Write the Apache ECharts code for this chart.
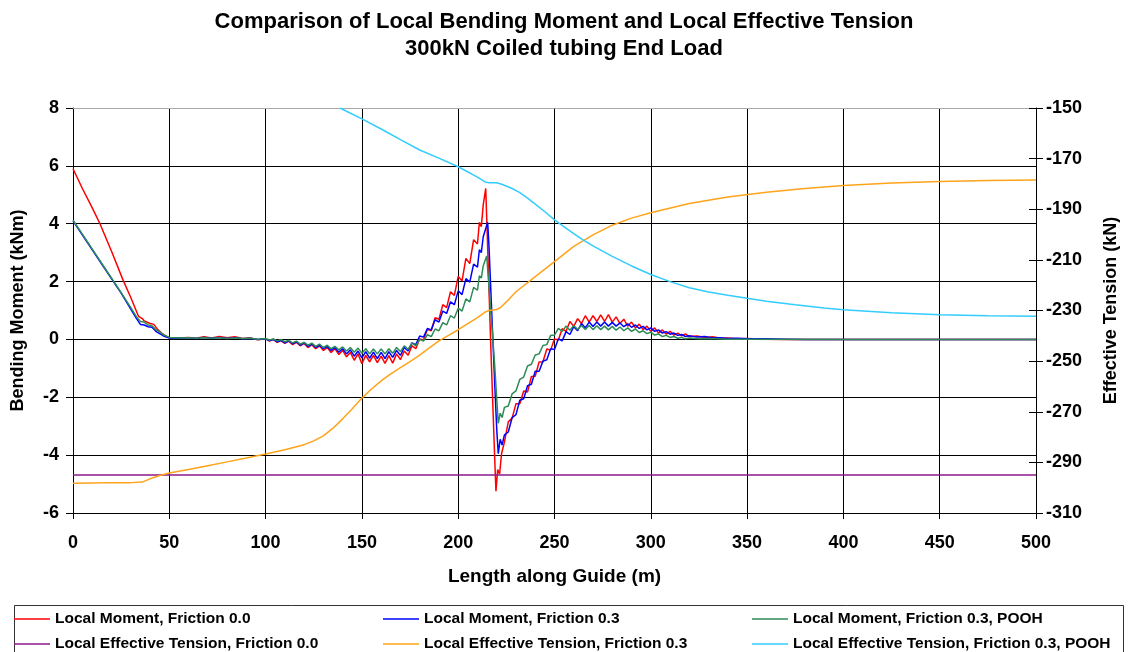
<!DOCTYPE html>
<html>
<head>
<meta charset="utf-8">
<title>Local Bending Moment and Local Effective Tension</title>
<script src="https://cdn.jsdelivr.net/npm/echarts@6/dist/echarts.min.js"></script>
<style>
  html, body { margin: 0; padding: 0; background: #fff; }
  #chart { width: 1128px; height: 652px; }
</style>
</head>
<body>
<div id="chart"></div>
<script>
// Length along guide (m) against local bending moment (kNm), three load cases
const momentFriction00 = [
  [0,5.9],[5,5.2],[10,4.55],[14,4.0],[20,3.05],[26,2.05],[30,1.45],[34,0.8],[36,0.72],[37,0.64],[38,0.7],[40,0.55],[41,0.5],[42,0.52],[44,0.34],[46,0.22],[48,0.12],[50,0.06],
  [55,0.05],[60,0.07],[64,0.04],[68,0.09],[72,0.05],[76,0.1],[80,0.06],[84,0.09],[88,0.03],[92,0.05],[96,-0.01],[100,0.02],
  [102,-0.06],[104,0.0],[106,-0.1],[108,-0.04],[110,-0.14],[112,-0.06],[114,-0.18],[116,-0.1],[118,-0.22],[120,-0.14],[122,-0.28],[124,-0.18],[126,-0.32],[128,-0.22],[130,-0.38],[132,-0.28],[134,-0.45],[136,-0.32],[138,-0.52],[140,-0.38],
  [142,-0.6],[144,-0.45],[146,-0.72],[148,-0.5],[150,-0.84],[152,-0.55],[154,-0.78],[156,-0.55],[158,-0.8],[160,-0.58],[162,-0.83],[164,-0.56],[166,-0.82],[168,-0.5],[170,-0.7],[172,-0.4],[174,-0.55],[176,-0.22],[178,-0.32],[180,0.02],
  [182,-0.02],[184,0.35],[186,0.3],[188,0.75],[190,0.7],[192,1.2],[194,1.1],[196,1.65],[198,1.52],[200,2.18],[202,2.02],[204,2.8],[206,2.62],[208,3.45],[210,3.3],[211,4.05],[212,3.9],[213,4.65],[214.3,5.22],
  [215,3.8],[216,1.7],[217,-0.4],[218,-2.3],[219,-4.2],[219.6,-5.25],[220.5,-4.5],[221.5,-4.65],[222.5,-3.95],[224,-3.55],[226,-2.85],[228,-2.72],[230,-2.22],[232,-2.22],[234,-1.78],[236,-1.82],[238,-1.28],[240,-1.27],
  [242,-0.78],[244,-0.77],[246,-0.33],[248,-0.37],[250,0.02],[252,-0.02],[254,0.37],[256,0.28],[258,0.62],[260,0.45],[262,0.72],[264,0.55],[266,0.82],[268,0.6],[270,0.82],[272,0.62],[274,0.85],[276,0.62],[278,0.86],[280,0.6],
  [282,0.78],[284,0.55],[286,0.7],[288,0.46],[290,0.6],[292,0.4],[294,0.53],[296,0.34],[298,0.46],[300,0.28],[302,0.4],[304,0.22],[306,0.33],[308,0.18],[310,0.28],[312,0.15],[314,0.22],[316,0.12],[318,0.19],[320,0.1],
  [324,0.12],[328,0.07],[332,0.09],[336,0.04],[340,0.05],[345,0.02],[350,0.03],[360,0.01],[370,0.0],[400,0.0],[450,0.0],[500,0.0]
];

const momentFriction03 = [
  [0,4.1],[5,3.6],[10,3.1],[15,2.6],[21,2.0],[25,1.6],[30,1.05],[33,0.72],[35,0.52],[36,0.46],[37,0.5],[39,0.44],[40,0.38],[41,0.42],[43,0.28],[45,0.2],[47,0.12],[50,0.05],
  [55,0.04],[60,0.06],[64,0.03],[68,0.07],[72,0.04],[76,0.07],[80,0.03],[84,0.06],[88,0.02],[92,0.04],[96,0.0],[100,0.02],
  [102,-0.04],[104,0.0],[106,-0.08],[108,-0.03],[110,-0.12],[112,-0.05],[114,-0.15],[116,-0.08],[118,-0.2],[120,-0.12],[122,-0.24],[124,-0.16],[126,-0.28],[128,-0.2],[130,-0.32],[132,-0.24],[134,-0.38],[136,-0.28],[138,-0.44],[140,-0.32],
  [142,-0.5],[144,-0.36],[146,-0.58],[148,-0.4],[150,-0.64],[152,-0.42],[154,-0.65],[156,-0.44],[158,-0.66],[160,-0.45],[162,-0.66],[164,-0.42],[166,-0.62],[168,-0.38],[170,-0.55],[172,-0.28],[174,-0.4],[176,-0.12],[178,-0.18],[180,0.12],
  [182,0.08],[184,0.38],[186,0.33],[188,0.68],[190,0.6],[192,0.98],[194,0.9],[196,1.3],[198,1.2],[200,1.68],[202,1.55],[204,2.1],[206,1.98],[208,2.6],[210,2.5],[211,3.1],[212,3.0],[213,3.55],[214,3.5],[215.3,4.05],
  [216,3.2],[217,1.6],[218,0.0],[219,-1.6],[220,-3.1],[220.8,-3.95],[221.8,-3.45],[222.8,-3.65],[224,-3.3],[226,-3.2],[228,-2.7],[230,-2.6],[232,-2.1],[234,-2.05],[236,-1.6],[238,-1.55],[240,-1.1],
  [242,-1.1],[244,-0.75],[246,-0.7],[248,-0.32],[250,-0.35],[252,0.02],[254,-0.05],[256,0.27],[258,0.17],[260,0.44],[262,0.3],[264,0.55],[266,0.4],[268,0.6],[270,0.45],[272,0.6],[274,0.46],[276,0.6],[278,0.46],[280,0.59],
  [282,0.46],[284,0.57],[286,0.44],[288,0.54],[290,0.42],[292,0.5],[294,0.38],[296,0.45],[298,0.33],[300,0.4],[302,0.28],[304,0.33],[306,0.22],[308,0.27],[310,0.18],[312,0.22],[314,0.14],[316,0.17],[318,0.1],[320,0.13],
  [324,0.08],[328,0.1],[332,0.05],[336,0.06],[340,0.03],[345,0.04],[350,0.02],[360,0.02],[370,0.01],[380,0.0],[400,0.0],[450,0.0],[500,0.0]
];

const momentFriction03Pooh = [
  [0,4.12],[5,3.62],[10,3.12],[15,2.62],[21,2.02],[25,1.62],[30,1.1],[33,0.78],[35,0.62],[36,0.58],[37,0.6],[39,0.5],[40,0.45],[41,0.47],[43,0.34],[45,0.26],[47,0.16],[50,0.07],
  [55,0.05],[60,0.06],[64,0.04],[68,0.06],[72,0.04],[76,0.06],[80,0.03],[84,0.05],[88,0.03],[92,0.04],[96,0.01],[100,0.03],
  [102,-0.02],[104,0.02],[106,-0.05],[108,0.0],[110,-0.08],[112,-0.03],[114,-0.12],[116,-0.06],[118,-0.16],[120,-0.1],[122,-0.2],[124,-0.13],[126,-0.24],[128,-0.16],[130,-0.28],[132,-0.2],[134,-0.32],[136,-0.24],[138,-0.36],[140,-0.26],
  [142,-0.4],[144,-0.28],[146,-0.44],[148,-0.3],[150,-0.48],[152,-0.32],[154,-0.5],[156,-0.33],[158,-0.5],[160,-0.33],[162,-0.5],[164,-0.32],[166,-0.48],[168,-0.28],[170,-0.42],[172,-0.22],[174,-0.34],[176,-0.12],[178,-0.22],[180,0.0],
  [182,-0.06],[184,0.16],[186,0.1],[188,0.36],[190,0.3],[192,0.58],[194,0.5],[196,0.82],[198,0.74],[200,1.08],[202,0.98],[204,1.4],[206,1.3],[208,1.8],[210,1.7],[211,2.2],[212,2.12],[213,2.55],[214,2.5],[214.8,2.88],
  [216,1.8],[217,0.9],[218,0.0],[219,-0.95],[220,-2.05],[220.8,-2.9],[221.8,-2.55],[222.8,-2.7],[224,-2.35],[226,-2.3],[228,-1.88],[230,-1.78],[232,-1.38],[234,-1.3],[236,-0.92],[238,-0.86],[240,-0.54],
  [242,-0.5],[244,-0.21],[246,-0.18],[248,0.14],[250,0.15],[252,0.38],[254,0.28],[256,0.46],[258,0.32],[260,0.48],[262,0.34],[264,0.48],[266,0.34],[268,0.48],[270,0.34],[272,0.47],[274,0.34],[276,0.46],[278,0.33],[280,0.45],
  [282,0.32],[284,0.43],[286,0.3],[288,0.4],[290,0.28],[292,0.36],[294,0.24],[296,0.3],[298,0.2],[300,0.25],[302,0.15],[304,0.19],[306,0.1],[308,0.14],[310,0.07],[312,0.1],[314,0.04],[316,0.07],[318,0.02],[320,0.05],
  [325,0.02],[330,0.03],[340,0.01],[350,0.01],[400,0.0],[450,0.0],[500,0.0]
];

// Length along guide (m) against local effective tension (kN)
const tensionFriction00 = [[0,-295],[500,-295]];

const tensionFriction03 = [
  [0,-298.2],[10,-298.1],[20,-298.0],[30,-298.0],[36,-297.8],[40,-296.5],[45,-295.2],[50,-294.2],[60,-292.8],[70,-291.3],[80,-289.8],[90,-288.3],[100,-286.7],
  [110,-285],[120,-283],[125,-281.5],[130,-279.5],[135,-276.5],[140,-272.8],[145,-268.8],[150,-264.6],[155,-261],[160,-257.8],[165,-255],[170,-252.6],[175,-250.2],[180,-247.6],[185,-244.8],[190,-242],[195,-239.8],[200,-237.6],
  [205,-235.2],[210,-232.8],[214,-230.6],[216,-230],[220,-229.6],[222,-228.8],[225,-226.6],[230,-222.6],[240,-216.6],[250,-210.7],[260,-204.7],[270,-200.1],[280,-196.3],[290,-193.5],[300,-191.4],
  [320,-187.7],[340,-185.2],[360,-183.3],[380,-181.8],[400,-180.6],[425,-179.6],[450,-179],[475,-178.6],[500,-178.4]
];

const tensionFriction03Pooh = [
  [138.6,-150],[150,-154.3],[160,-158.3],[170,-162.5],[180,-166.6],[190,-169.8],[200,-173.2],[210,-177.3],[214,-179.2],[216,-179.5],[220,-179.5],[223,-180.2],[228,-181.8],[232,-183.4],[236,-185.6],
  [240,-188],[245,-191],[250,-194.2],[255,-197],[260,-199.6],[265,-202.2],[270,-204.5],[280,-208.6],[290,-212.4],[300,-215.8],[310,-218.6],[320,-221],[330,-222.7],[340,-224],[350,-225.2],
  [360,-226.3],[375,-227.7],[390,-229],[400,-229.7],[425,-230.9],[450,-231.7],[475,-232.1],[500,-232.3]
];

const tensionTicks = [-310, -290, -270, -250, -230, -210, -190, -170, -150];

const seriesNames = [
  'Local Moment, Friction 0.0',
  'Local Moment, Friction 0.3',
  'Local Moment, Friction 0.3, POOH',
  'Local Effective Tension, Friction 0.0',
  'Local Effective Tension, Friction 0.3',
  'Local Effective Tension, Friction 0.3, POOH'
];
const seriesColors = ['#ff0000', '#0000ff', '#2e8b57', '#8b1a8b', '#ffa31a', '#33ccff'];

const FONT = '"Liberation Sans", Arial, sans-serif';

const chart = echarts.init(document.getElementById('chart'), null, { renderer: 'canvas' });

function lineSeries(i, data, yAxisIndex) {
  return {
    name: seriesNames[i],
    type: 'line',
    yAxisIndex: yAxisIndex,
    data: data,
    symbol: 'none',
    smooth: false,
    clip: true,
    color: seriesColors[i],
    lineStyle: { width: 1.5, color: seriesColors[i] },
    z: 3
  };
}

// thin horizontal stroke as the key mark; the bare move-to points keep a 36x14 box
const legendLineIcon = 'path://M0,0 M36,14 M0,6.3 L36,6.3 L36,7.7 L0,7.7 Z';

const legendCommon = {
  orient: 'vertical',
  top: 611,
  padding: 0,
  icon: legendLineIcon,
  itemWidth: 36,
  itemHeight: 14,
  itemGap: 9,
  selectedMode: false,
  textStyle: { fontSize: 15.5, fontWeight: 'bold', color: '#000', fontFamily: FONT }
};

chart.setOption({
  animation: false,
  backgroundColor: '#fff',
  textStyle: { fontFamily: FONT },
  title: {
    text: 'Comparison of Local Bending Moment and Local Effective Tension\n300kN Coiled tubing End Load',
    left: 'center',
    top: 3,
    textStyle: { fontSize: 22, fontWeight: 'bold', color: '#000', lineHeight: 27, fontFamily: FONT }
  },
  grid: { left: 73, right: 92, top: 108, bottom: 139 },
  legend: [
    Object.assign({ left: 14, data: [seriesNames[0], seriesNames[3]] }, legendCommon),
    Object.assign({ left: 383, data: [seriesNames[1], seriesNames[4]] }, legendCommon),
    Object.assign({ left: 752, data: [seriesNames[2], seriesNames[5]] }, legendCommon)
  ],
  graphic: [
    {
      type: 'rect',
      left: 12,
      top: 603,
      shape: { width: 1109, height: 60 },
      style: { fill: 'none', stroke: '#333', lineWidth: 1 }
    }
  ],
  xAxis: [
    {
      type: 'value',
      min: 0,
      max: 500,
      interval: 50,
      name: 'Length along Guide (m)',
      nameLocation: 'middle',
      nameGap: 54,
      nameTextStyle: { fontSize: 19, fontWeight: 'bold', color: '#000', fontFamily: FONT },
      axisLine: { show: true, onZero: false, lineStyle: { color: '#000', width: 1 } },
      axisTick: { show: true, length: 6, lineStyle: { color: '#000' } },
      axisLabel: { fontSize: 18, fontWeight: 'bold', color: '#000', margin: 21, fontFamily: FONT },
      splitLine: { show: true, lineStyle: { color: '#000', width: 1 } }
    },
    {
      type: 'value',
      position: 'top',
      min: 0,
      max: 500,
      axisLine: { show: true, onZero: false, lineStyle: { color: '#aaa', width: 1 } },
      axisTick: { show: false },
      axisLabel: { show: false },
      splitLine: { show: false }
    }
  ],
  yAxis: [
    {
      type: 'value',
      position: 'left',
      min: -6,
      max: 8,
      interval: 2,
      name: 'Bending Moment (kNm)',
      nameLocation: 'middle',
      nameGap: 46,
      nameTextStyle: { fontSize: 18, fontWeight: 'bold', color: '#000', fontFamily: FONT },
      axisLine: { show: true, onZero: false, lineStyle: { color: '#000', width: 1 } },
      axisTick: { show: true, length: 7, lineStyle: { color: '#000' } },
      axisLabel: { fontSize: 18, fontWeight: 'bold', color: '#000', margin: 14, fontFamily: FONT },
      splitLine: { show: true, showMaxLine: false, lineStyle: { color: '#000', width: 1 } }
    },
    {
      type: 'value',
      position: 'right',
      min: -310,
      max: -150,
      name: 'Effective Tension (kN)',
      nameLocation: 'middle',
      nameGap: 66,
      nameTextStyle: { fontSize: 18, fontWeight: 'bold', color: '#000', fontFamily: FONT },
      axisLine: { show: true, onZero: false, lineStyle: { color: '#000', width: 1 } },
      axisTick: { show: true, length: 7, customValues: tensionTicks, lineStyle: { color: '#000' } },
      axisLabel: { fontSize: 18, fontWeight: 'bold', color: '#000', margin: 10, customValues: tensionTicks, fontFamily: FONT },
      splitLine: { show: false }
    },
    {
      type: 'value',
      position: 'right',
      min: -310,
      max: -150,
      axisLine: { show: false, onZero: false },
      axisTick: { show: true, inside: true, length: 7, customValues: tensionTicks, lineStyle: { color: '#000' } },
      axisLabel: { show: false },
      splitLine: { show: false }
    }
  ],
  series: [
    lineSeries(0, momentFriction00, 0),
    lineSeries(1, momentFriction03, 0),
    lineSeries(2, momentFriction03Pooh, 0),
    lineSeries(3, tensionFriction00, 1),
    lineSeries(4, tensionFriction03, 1),
    lineSeries(5, tensionFriction03Pooh, 1)
  ]
});
</script>
</body>
</html>
